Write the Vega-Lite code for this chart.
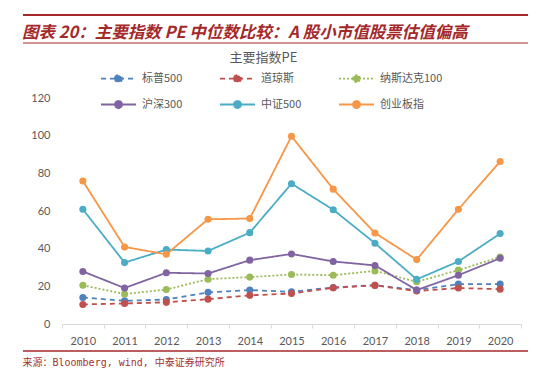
{
  "$schema": "https://vega.github.io/schema/vega-lite/v6.json",
  "width": 459,
  "height": 226,
  "autosize": "none",
  "padding": {"left": 62, "top": 98, "right": 29, "bottom": 54},
  "background": "white",
  "title": {
    "text": "图表 20：主要指数 PE 中位数比较：A 股小市值股票估值偏高",
    "anchor": "start",
    "frame": "group",
    "dx": -40,
    "offset": -27,
    "font": "Noto Sans CJK SC",
    "fontSize": 16.5,
    "fontWeight": "bold",
    "fontStyle": "italic",
    "color": "#a5282a"
  },
  "config": {
    "view": {"stroke": null},
    "axis": {"labelFont": "Lato", "labelFontSize": 11, "labelColor": "#595959"}
  },
  "data": {
    "values": [
      {"year": "2010", "index": "标普500", "pe": 14.1},
      {"year": "2011", "index": "标普500", "pe": 12.3},
      {"year": "2012", "index": "标普500", "pe": 13.0},
      {"year": "2013", "index": "标普500", "pe": 16.8},
      {"year": "2014", "index": "标普500", "pe": 18.0},
      {"year": "2015", "index": "标普500", "pe": 17.1},
      {"year": "2016", "index": "标普500", "pe": 19.4},
      {"year": "2017", "index": "标普500", "pe": 20.6},
      {"year": "2018", "index": "标普500", "pe": 18.0},
      {"year": "2019", "index": "标普500", "pe": 21.2},
      {"year": "2020", "index": "标普500", "pe": 21.2},
      {"year": "2010", "index": "道琼斯", "pe": 10.4},
      {"year": "2011", "index": "道琼斯", "pe": 10.9},
      {"year": "2012", "index": "道琼斯", "pe": 11.5},
      {"year": "2013", "index": "道琼斯", "pe": 13.2},
      {"year": "2014", "index": "道琼斯", "pe": 15.2},
      {"year": "2015", "index": "道琼斯", "pe": 16.2},
      {"year": "2016", "index": "道琼斯", "pe": 19.2},
      {"year": "2017", "index": "道琼斯", "pe": 20.5},
      {"year": "2018", "index": "道琼斯", "pe": 17.5},
      {"year": "2019", "index": "道琼斯", "pe": 19.1},
      {"year": "2020", "index": "道琼斯", "pe": 18.5},
      {"year": "2010", "index": "纳斯达克100", "pe": 20.6},
      {"year": "2011", "index": "纳斯达克100", "pe": 15.9},
      {"year": "2012", "index": "纳斯达克100", "pe": 18.3},
      {"year": "2013", "index": "纳斯达克100", "pe": 23.8},
      {"year": "2014", "index": "纳斯达克100", "pe": 24.9},
      {"year": "2015", "index": "纳斯达克100", "pe": 26.3},
      {"year": "2016", "index": "纳斯达克100", "pe": 25.9},
      {"year": "2017", "index": "纳斯达克100", "pe": 28.2},
      {"year": "2018", "index": "纳斯达克100", "pe": 22.4},
      {"year": "2019", "index": "纳斯达克100", "pe": 28.6},
      {"year": "2020", "index": "纳斯达克100", "pe": 35.6},
      {"year": "2010", "index": "沪深300", "pe": 27.9},
      {"year": "2011", "index": "沪深300", "pe": 19.1},
      {"year": "2012", "index": "沪深300", "pe": 27.2},
      {"year": "2013", "index": "沪深300", "pe": 26.8},
      {"year": "2014", "index": "沪深300", "pe": 33.9},
      {"year": "2015", "index": "沪深300", "pe": 37.2},
      {"year": "2016", "index": "沪深300", "pe": 33.2},
      {"year": "2017", "index": "沪深300", "pe": 31.1},
      {"year": "2018", "index": "沪深300", "pe": 18.0},
      {"year": "2019", "index": "沪深300", "pe": 25.9},
      {"year": "2020", "index": "沪深300", "pe": 34.9},
      {"year": "2010", "index": "中证500", "pe": 60.9},
      {"year": "2011", "index": "中证500", "pe": 32.6},
      {"year": "2012", "index": "中证500", "pe": 39.5},
      {"year": "2013", "index": "中证500", "pe": 38.8},
      {"year": "2014", "index": "中证500", "pe": 48.5},
      {"year": "2015", "index": "中证500", "pe": 74.5},
      {"year": "2016", "index": "中证500", "pe": 60.7},
      {"year": "2017", "index": "中证500", "pe": 42.9},
      {"year": "2018", "index": "中证500", "pe": 23.7},
      {"year": "2019", "index": "中证500", "pe": 33.2},
      {"year": "2020", "index": "中证500", "pe": 48.0},
      {"year": "2010", "index": "创业板指", "pe": 75.9},
      {"year": "2011", "index": "创业板指", "pe": 40.9},
      {"year": "2012", "index": "创业板指", "pe": 37.0},
      {"year": "2013", "index": "创业板指", "pe": 55.6},
      {"year": "2014", "index": "创业板指", "pe": 56.0},
      {"year": "2015", "index": "创业板指", "pe": 99.7},
      {"year": "2016", "index": "创业板指", "pe": 71.6},
      {"year": "2017", "index": "创业板指", "pe": 48.3},
      {"year": "2018", "index": "创业板指", "pe": 34.2},
      {"year": "2019", "index": "创业板指", "pe": 60.9},
      {"year": "2020", "index": "创业板指", "pe": 86.3}
    ]
  },
  "encoding": {
    "x": {
      "field": "year",
      "type": "ordinal",
      "scale": {"type": "band", "paddingInner": 0, "paddingOuter": 0},
      "axis": {
        "labelAngle": 0,
        "tickBand": "extent",
        "domainColor": "#d9d9d9",
        "tickColor": "#d9d9d9",
        "tickSize": 4,
        "labelPadding": 7,
        "title": "来源：Bloomberg, wind, 中泰证券研究所",
        "titleX": -40,
        "titleY": 38,
        "titleAlign": "left",
        "titleBaseline": "middle",
        "titleFont": "DejaVu Sans Mono, Noto Sans CJK SC",
        "titleFontSize": 10,
        "titleFontWeight": "normal",
        "titleColor": "#a5332d"
      }
    },
    "y": {
      "field": "pe",
      "type": "quantitative",
      "scale": {"domain": [0, 120]},
      "axis": {
        "values": [0, 20, 40, 60, 80, 100, 120],
        "grid": false,
        "domain": false,
        "ticks": false,
        "labelPadding": 12,
        "title": "主要指数PE",
        "titleAngle": 0,
        "titleAlign": "center",
        "titleBaseline": "middle",
        "titleX": 201,
        "titleY": -41,
        "titleFont": "Noto Sans CJK SC",
        "titleFontSize": 13,
        "titleFontWeight": "normal",
        "titleColor": "#595959"
      }
    }
  },
  "layer": [
    {
      "mark": {"type": "line"},
      "encoding": {
        "color": {
          "field": "index",
          "type": "nominal",
          "scale": {
            "domain": ["标普500", "道琼斯", "纳斯达克100", "沪深300", "中证500", "创业板指"],
            "range": ["#4f81bd", "#c0504d", "#9bbb59", "#8064a2", "#4bacc6", "#f79646"]
          },
          "legend": {
            "orient": "none",
            "direction": "horizontal",
            "legendX": 38,
            "legendY": -38,
            "columns": 3,
            "columnPadding": 33,
            "rowPadding": 0,
            "title": null,
            "symbolType": "M-1,0H1M-0.2,0A0.2,0.2,0,1,1,0.2,0A0.2,0.2,0,1,1,-0.2,0Z",
            "symbolSize": 1225,
            "labelFont": "Noto Sans CJK SC",
            "labelFontSize": 11,
            "labelColor": "#595959",
            "labelOffset": 5,
            "encode": {
              "symbols": {
                "update": {
                  "fill": {"scale": "color", "field": "value"},
                  "fillOpacity": {"value": 1}
                }
              }
            }
          }
        },
        "strokeDash": {
          "field": "index",
          "type": "nominal",
          "scale": {
            "domain": ["标普500", "道琼斯", "纳斯达克100", "沪深300", "中证500", "创业板指"],
            "range": [[5, 4], [5, 4], [2, 2], [1, 0], [1, 0], [1, 0]]
          },
          "legend": null
        },
        "strokeWidth": {
          "field": "index",
          "type": "nominal",
          "scale": {
            "domain": ["标普500", "道琼斯", "纳斯达克100", "沪深300", "中证500", "创业板指"],
            "range": [1.8, 1.8, 1.2, 2.8, 2.8, 2.8]
          },
          "legend": null
        }
      }
    },
    {
      "mark": {"type": "point", "filled": true, "size": 50, "opacity": 1},
      "encoding": {
        "color": {"field": "index", "type": "nominal", "legend": null}
      }
    },
    {
      "data": {"values": [{}]},
      "mark": {"type": "rule", "color": "#a5282a", "strokeWidth": 2},
      "encoding": {"x": {"value": -39}, "x2": {"value": 466}, "y": {"value": -83}}
    },
    {
      "data": {"values": [{}]},
      "mark": {"type": "rule", "color": "#a5282a", "strokeWidth": 1.2},
      "encoding": {"x": {"value": -39}, "x2": {"value": 466}, "y": {"value": -55}}
    },
    {
      "data": {"values": [{}]},
      "mark": {"type": "rule", "color": "#a5282a", "strokeWidth": 1.5},
      "encoding": {"x": {"value": -39}, "x2": {"value": 466}, "y": {"value": 253}}
    }
  ]
}
